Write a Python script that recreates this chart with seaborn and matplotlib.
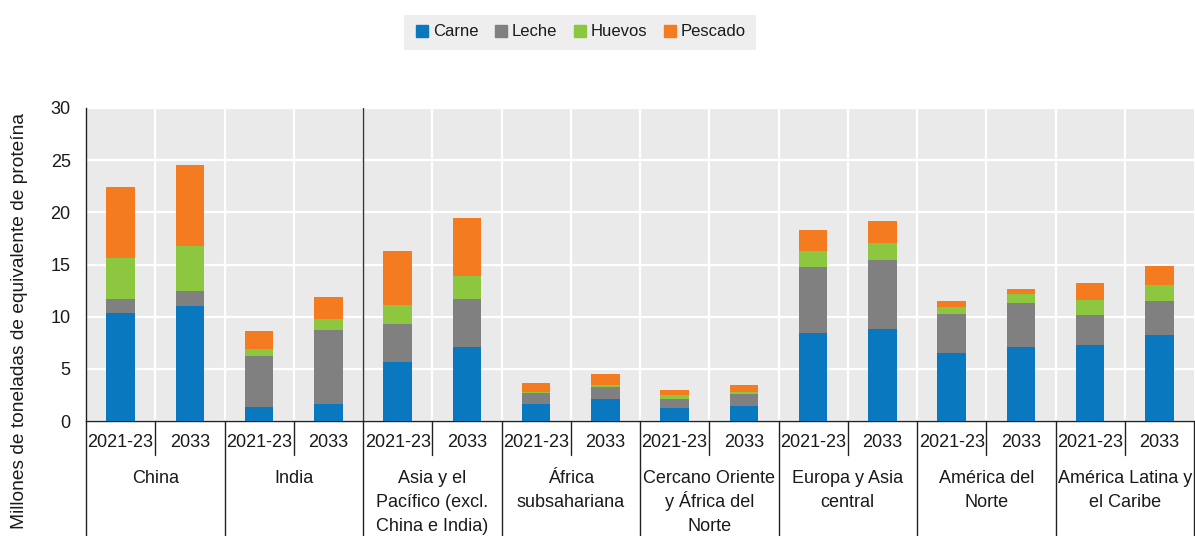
import matplotlib
matplotlib.use('Agg')
import matplotlib.pyplot as plt
import matplotlib.transforms as mtransforms
from matplotlib.lines import Line2D
import numpy as np
import pandas as pd
import seaborn as sns

# data (Mt protein equivalent)
regions = ['China', 'India', 'Asia y el\nPacífico (excl.\nChina e India)', 'África\nsubsahariana',
           'Cercano Oriente\ny África del\nNorte', 'Europa y Asia\ncentral', 'América del\nNorte',
           'América Latina y\nel Caribe']
periods = ['2021-23', '2033']
carne   = [10.35, 11.0, 1.3, 1.6, 5.7, 7.05, 1.6, 2.1, 1.2, 1.4, 8.45, 8.8, 6.55, 7.05, 7.25, 8.25]
leche   = [1.35, 1.5, 4.9, 7.15, 3.55, 4.6, 1.05, 1.2, 0.9, 1.2, 6.3, 6.6, 3.75, 4.25, 2.9, 3.25]
huevos  = [3.9, 4.3, 0.7, 1.0, 1.9, 2.2, 0.15, 0.15, 0.35, 0.15, 1.5, 1.7, 0.65, 0.85, 1.4, 1.5]
pescado = [6.8, 7.7, 1.7, 2.1, 5.1, 5.65, 0.8, 1.05, 0.5, 0.7, 2.1, 2.1, 0.55, 0.5, 1.7, 1.9]

series = ['Carne', 'Leche', 'Huevos', 'Pescado']
colors = ['#0A78BE', '#808080', '#8DC63F', '#F47B20']

slots = [f'{r}|{p}' for r in regions for p in periods]
df = pd.DataFrame({'slot': slots, 'Carne': carne, 'Leche': leche,
                   'Huevos': huevos, 'Pescado': pescado})
cum = df[series].cumsum(axis=1)

sns.set_style('white', {'axes.facecolor': '#EAEAEA'})
plt.rcParams['font.family'] = ['Liberation Sans', 'DejaVu Sans']
FS = 13
TXT = '#1a1a1a'

fig = plt.figure(figsize=(11.95, 5.36), dpi=100)
ax = fig.add_axes([86 / 1195, 1 - 421 / 536, 1108 / 1195, 313 / 536])

# stacked bars: draw cumulative totals from top layer down
for name, col in reversed(list(zip(series, colors))):
    sns.barplot(x=df['slot'], y=cum[name], order=slots, color=col, width=0.41,
                saturation=1, ax=ax, zorder=3, edgecolor='none', linewidth=0)

n = len(slots)
ax.set_xlim(-0.5, n - 0.5)
ax.set_ylim(0, 30)
ax.set_yticks(range(0, 31, 5))
ax.set_ylabel('')
ax.set_xlabel('')
ax.grid(axis='y', color='white', linewidth=1.6, zorder=0)
ax.set_axisbelow(True)

bounds = np.arange(0.5, n - 0.5, 1.0)
ax.set_xticks(bounds)
ax.set_xticklabels([])
ax.tick_params(axis='x', direction='inout', length=8, width=1, color='#222222')
ax.tick_params(axis='y', direction='out', length=5, width=1, color='#222222',
               labelsize=FS, labelcolor=TXT, pad=6)
for b in bounds:
    ax.axvline(b, color='white', linewidth=1.6, zorder=0)
ax.axvline(3.5, color='#333333', linewidth=1, zorder=4)

for s in ['top', 'right']:
    ax.spines[s].set_visible(False)
for s in ['left', 'bottom']:
    ax.spines[s].set_color('#222222')
    ax.spines[s].set_linewidth(1)

trans = mtransforms.blended_transform_factory(ax.transData, ax.transAxes)
H = 313.0
yr_base = -26 / H
sep_short = -34 / H
grp_base = [-62 / H, -86 / H, -110 / H]
bottom_y = -120 / H

for i, r in enumerate(regions):
    x0 = 2 * i
    for j, p in enumerate(periods):
        ax.text(x0 + j, yr_base, p, transform=trans, ha='center', va='baseline',
                fontsize=FS, color=TXT)
    ax.add_line(Line2D([x0 + 0.5, x0 + 0.5], [0, sep_short], transform=trans,
                       color='#222222', linewidth=1, clip_on=False))
    for k, line in enumerate(r.split('\n')):
        ax.text(x0 + 0.5, grp_base[k], line, transform=trans, ha='center', va='baseline',
                fontsize=FS, color=TXT)
for b in np.arange(-0.5, n, 2.0):
    ax.add_line(Line2D([b, b], [0, bottom_y], transform=trans,
                       color='#222222', linewidth=1, clip_on=False))

fig.text(20 / 1195, 1 - 321 / 536, 'Millones de toneladas de equivalente de proteína',
         rotation=90, ha='center', va='center', fontsize=13.8, color=TXT)

handles = [Line2D([0], [0], marker='s', linestyle='', markersize=8.5,
                  markerfacecolor=c, markeredgecolor=c) for c in colors]
leg = fig.legend(handles, series, loc='center', bbox_to_anchor=(580 / 1195, 1 - 32 / 536),
                 ncol=4, frameon=True, fontsize=FS - 1, handletextpad=0.15,
                 columnspacing=0.85, borderpad=0.6, handlelength=1.0)
for t in leg.get_texts():
    t.set_color(TXT)
leg.get_frame().set_facecolor('#EAEAEA')
leg.get_frame().set_edgecolor('none')
leg.get_frame().set_boxstyle('square', pad=0)

fig.savefig('out.png', dpi=100)
